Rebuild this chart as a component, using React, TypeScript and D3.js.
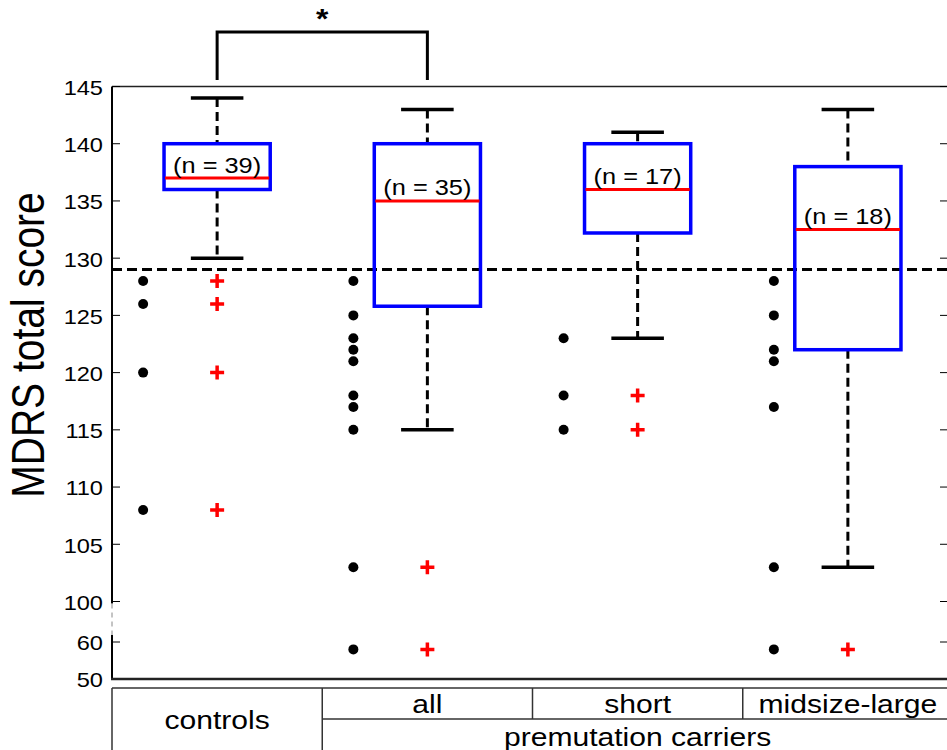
import React from "react";
import * as d3 from "d3";

// groups and box statistics
const groups = ["controls", "all", "short", "midsize-large"];
const nCounts = [39, 35, 17, 18];
const whiskerHigh = [144, 143, 141, 143];
const q3 = [140, 140, 140, 138];
const medians = [137, 135, 136, 132.5];
const q1 = [136, 125.8, 132.2, 122];
const whiskerLow = [130, 115, 123, 103];
const outliers = [[128, 126, 120, 108], [103, 58], [118, 115], [58]];
const rawPoints = [
  [128, 126, 120, 108],
  [128, 125, 123, 122, 121, 118, 117, 115, 103, 58],
  [123, 118, 115],
  [128, 125, 122, 121, 117, 103, 58],
];
const upperTicks = [100, 105, 110, 115, 120, 125, 130, 135, 140, 145];
const lowerTicks = [50, 60];
const cutoff = 129;
const subgroupLabel = "premutation carriers";
const yLabel = "MDRS total score";

const W = 947;
const H = 750;
const left = 112;
const right = 953;
const top = 86.5;
const upperBottom = 601.5;
const lowerTop = 642;
const bottom = 679;
const sx = 1.18; // the figure is stretched horizontally
const font = "'Liberation Sans', Arial, sans-serif";

function App() {
  const x = d3.scaleBand().domain(groups).range([left, right]);
  const bw = x.bandwidth();
  const cx = (g: string) => (x(g) as number) + bw / 2;
  const yUp = d3.scaleLinear().domain([100, 145]).range([upperBottom, top]);
  const yLow = d3.scaleLinear().domain([50, 60]).range([bottom, lowerTop]);
  const y = (v: number) => (v >= 100 ? yUp(v) : yLow(v));

  const boxW = bw * 0.505;
  const capW = bw * 0.125;
  const dotOff = bw * 0.352;

  const tableTop = 688;
  const rowMid = 719;

  const allTicks = [...upperTicks.map((t) => ({ t, y: yUp(t) })), ...lowerTicks.map((t) => ({ t, y: yLow(t) }))];

  const x0 = cx(groups[0]);
  const x1 = cx(groups[1]);

  return (
    <svg width={W} height={H} style={{ position: "absolute", left: 0, top: 0, background: "#fff" }} fontFamily={font}>
      {/* significance bracket */}
      <path d={`M${x0},80V32H${x1}V80`} fill="none" stroke="#000" strokeWidth={3} />
      <text transform={`translate(${(x0 + x1) / 2},28) scale(${sx},1)`} textAnchor="middle" fontSize={27} fontWeight="bold">*</text>

      {/* axes frame */}
      <line x1={left} x2={W} y1={top} y2={top} stroke="#222" strokeWidth={1.5} />
      <line x1={left} x2={left} y1={top} y2={upperBottom + 2} stroke="#000" strokeWidth={2} />
      <line x1={left} x2={left} y1={upperBottom + 2} y2={635} stroke="#888" strokeWidth={1} strokeDasharray="5,4" />
      <line x1={left} x2={left} y1={635} y2={bottom} stroke="#000" strokeWidth={2} />
      <line x1={left - 1} x2={W} y1={bottom} y2={bottom} stroke="#222" strokeWidth={2.5} />

      {allTicks.map(({ t, y: ty }) => (
        <g key={t}>
          {t !== 50 && <line x1={left} x2={left + 8} y1={ty} y2={ty} stroke="#000" strokeWidth={1} />}
          {t !== 50 && <line x1={W - 7} x2={W} y1={ty} y2={ty} stroke="#000" strokeWidth={1} />}
          <text transform={`translate(${left - 9},${ty + 1.5}) scale(${sx},1)`} textAnchor="end" dominantBaseline="central" fontSize={20}>
            {t}
          </text>
        </g>
      ))}

      <text transform={`translate(44,345) scale(${sx},1) rotate(-90)`} textAnchor="middle" fontSize={39}>
        {yLabel}
      </text>

      {/* cutoff line */}
      <line x1={left} x2={W} y1={yUp(cutoff)} y2={yUp(cutoff)} stroke="#000" strokeWidth={3} strokeDasharray="10,5" />

      {groups.map((g, i) => {
        const c = cx(g);
        return (
          <g key={g}>
            {/* whiskers */}
            <line x1={c} x2={c} y1={y(whiskerHigh[i])} y2={y(q3[i])} stroke="#000" strokeWidth={3} strokeDasharray="9,5" />
            <line x1={c} x2={c} y1={y(q1[i])} y2={y(whiskerLow[i])} stroke="#000" strokeWidth={3} strokeDasharray="9,5" />
            <line x1={c - capW} x2={c + capW} y1={y(whiskerHigh[i])} y2={y(whiskerHigh[i])} stroke="#000" strokeWidth={3.5} />
            <line x1={c - capW} x2={c + capW} y1={y(whiskerLow[i])} y2={y(whiskerLow[i])} stroke="#000" strokeWidth={3.5} />
            {/* box */}
            <rect x={c - boxW / 2} y={y(q3[i])} width={boxW} height={y(q1[i]) - y(q3[i])} fill="none" stroke="#0000ff" strokeWidth={3.5} />
            <line x1={c - boxW / 2 + 1} x2={c + boxW / 2 - 1} y1={y(medians[i])} y2={y(medians[i])} stroke="#ff0000" strokeWidth={3} />
            <text transform={`translate(${c},${y(medians[i]) - 5.5}) scale(${sx},1)`} textAnchor="middle" fontSize={21.5}>
              {`(n = ${nCounts[i]})`}
            </text>
            {/* outliers */}
            {outliers[i].map((v, k) => (
              <path key={k} d={`M${c - 7},${y(v)}H${c + 7}M${c},${y(v) - 7}V${y(v) + 7}`} stroke="#ff0000" strokeWidth={3.5} />
            ))}
            {/* raw data points */}
            {rawPoints[i].map((v, k) => (
              <circle key={k} cx={c - dotOff} cy={y(v)} r={5} fill="#000" />
            ))}
          </g>
        );
      })}

      {/* category table */}
      <g stroke="#333" strokeWidth={1.5}>
        <line x1={left} x2={W} y1={tableTop} y2={tableTop} />
        <line x1={x(groups[1]) as number} x2={W} y1={rowMid} y2={rowMid} />
        <line x1={left} x2={left} y1={tableTop} y2={H} />
        <line x1={x(groups[1]) as number} x2={x(groups[1]) as number} y1={tableTop} y2={H} />
        {groups.slice(2).map((g) => (
          <line key={g} x1={x(g) as number} x2={x(g) as number} y1={tableTop} y2={rowMid} />
        ))}
      </g>
      <text transform={`translate(${cx(groups[0])},${(tableTop + H) / 2 + 10}) scale(${sx},1)`} textAnchor="middle" fontSize={25.5}>
        {groups[0]}
      </text>
      {groups.slice(1).map((g) => (
        <text key={g} transform={`translate(${cx(g)},${rowMid - 6}) scale(${sx},1)`} textAnchor="middle" fontSize={25.5}>
          {g}
        </text>
      ))}
      <text transform={`translate(${(cx(groups[1]) + cx(groups[3])) / 2},${H - 4}) scale(${sx},1)`} textAnchor="middle" fontSize={25.5}>
        {subgroupLabel}
      </text>
    </svg>
  );
}

export default App;
